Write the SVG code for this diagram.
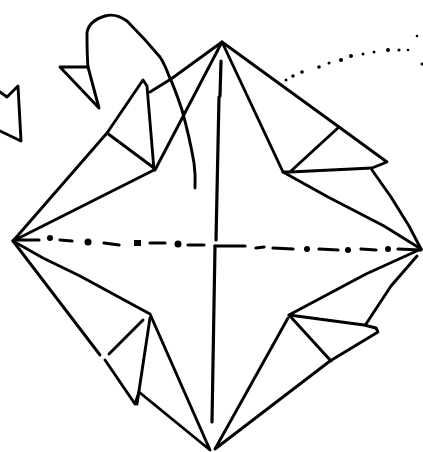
<svg xmlns="http://www.w3.org/2000/svg" width="423" height="452" viewBox="0 0 423 452">
<style>
.l{fill:none;stroke:#000;stroke-width:2.9;stroke-linejoin:round;stroke-linecap:round}
.t{stroke-width:3.2}
.d{fill:#000}
</style>
<rect width="423" height="452" fill="#fff"/>
<g id="outline" class="l">
<path d="M13 241L107 133L143 80L147 86L154 170L13 241"/>
<path d="M107 133L154 168"/>
<path d="M150 92L171 79L222 42L155 170"/>
<path d="M222 42L339 127L387 162L372 168L290 172L283 172L222 42"/>
<path d="M339 127L291 171"/>
<path d="M283 172L328 197L384 226L421 249"/>
<path d="M372 170L391 197L409 226L421 249"/>
<path d="M421 249L366 274L289 315L364 325L376 328L378 332L330 361L215 449L288 318"/>
<path d="M289 315L331 361"/>
<path d="M366 324L391 286L417 256"/>
<path d="M13 241L43 258L80 276L150 314L210 450L139 392L135 404L105 360"/>
<path d="M13 241L100 355"/>
<path d="M109 354L143 320"/>
<path d="M150 318L137 404"/>
</g>
<g id="curved-arrow" class="l">
<path d="M195 188C195.500 178 195 170 194 163C191 145 187 128 182 110C178 98 174 86 169 76C166 68 164 63 160 57C150 45 138 32 127 21C120 16 112 14 105 16C95 19 88 25 87 33C87 45 87 56 88 67L99 108"/>
<path d="M88 67L60 67L98 107"/>
</g>
<g id="left-fragment" class="l">
<path d="M0 92L7 97L18 86L21 141L0 131"/>
</g>
<g id="vertical-fold" class="l t">
<path d="M221 61L220 96"/>
<path d="M219 97L216 240"/>
<path d="M215 246L212 422"/>
</g>
<g id="horizontal-fold" class="l t">
<path d="M14 240L39 240"/>
<path d="M60 240L72 241"/>
<path d="M104 243L119 245"/>
<path d="M150 243L165 243"/>
<path d="M188 245L204 245"/>
<path d="M215 246L245 246"/>
<path d="M256 248L264 247"/>
<path d="M273 248L293 249"/>
<path d="M319 249L338 250"/>
<path d="M361 249L376 250"/>
<path d="M398 249L421 250"/>
</g>
<g id="fold-dots" class="d">
<circle cx="50" cy="238" r="3"/>
<circle cx="88" cy="242" r="3.500"/>
<rect x="134" y="240" width="7" height="6"/>
<circle cx="178" cy="244" r="3.500"/>
<circle cx="307" cy="249" r="3"/>
<circle cx="348" cy="250" r="3"/>
<circle cx="388" cy="249" r="3"/>
<circle cx="286" cy="80" r="1.500"/>
<circle cx="293" cy="76" r="1.800"/>
<circle cx="302" cy="72" r="1.800"/>
<circle cx="319" cy="67" r="1.800"/>
<circle cx="329" cy="63" r="1.500"/>
<circle cx="341" cy="60" r="2"/>
<circle cx="351" cy="56" r="2"/>
<circle cx="363" cy="54" r="1.500"/>
<circle cx="374" cy="52" r="1.500"/>
<circle cx="388" cy="50" r="2"/>
<circle cx="399" cy="50" r="1.600"/>
<circle cx="408" cy="50" r="1.300"/>
<circle cx="417" cy="36" r="1.300"/>
<circle cx="422" cy="64" r="1.500"/>
</g>
</svg>
